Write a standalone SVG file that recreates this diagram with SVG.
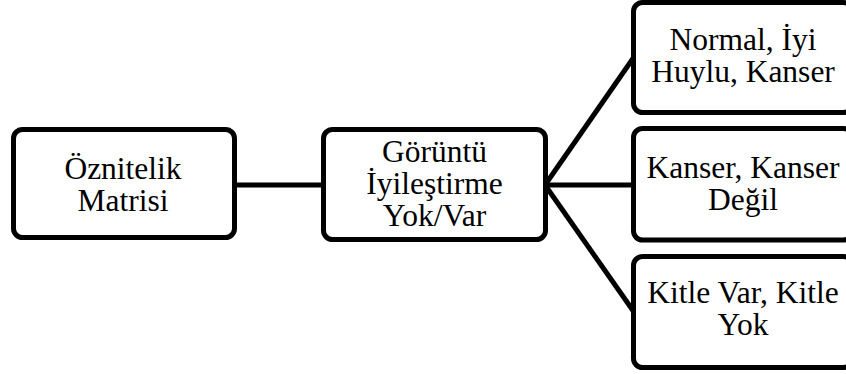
<svg xmlns="http://www.w3.org/2000/svg" width="846" height="374" viewBox="0 0 846 374">
<style>
.box{fill:#fff;stroke:#000;stroke-width:5}
.lbl{font-family:"Liberation Serif","Times New Roman",serif;font-size:31.5px;fill:#000;text-anchor:middle}
.conn line{stroke:#000;stroke-width:5}
</style>
<rect width="846" height="374" fill="#fff"/>
<g class="conn" id="connectors">
<line x1="234" y1="185" x2="324" y2="185"/>
<line x1="545" y1="185" x2="634" y2="185"/>
<line x1="545" y1="185" x2="634" y2="57"/>
<line x1="545" y1="185" x2="634" y2="312"/>
</g>
<g id="node-oznitelik">
<rect class="box" x="13.5" y="129.5" width="221" height="108" rx="9"/>
<text class="lbl" x="123" y="179">Öznitelik</text>
<text class="lbl" x="123" y="211">Matrisi</text>
</g>
<g id="node-goruntu">
<rect class="box" x="323.5" y="129.5" width="222" height="110" rx="9"/>
<text class="lbl" x="434.5" y="162">Görüntü</text>
<text class="lbl" x="434.5" y="194">İyileştirme</text>
<text class="lbl" x="434.5" y="226">Yok/Var</text>
</g>
<g id="node-normal">
<rect class="box" x="633.5" y="2.5" width="219" height="110" rx="9"/>
<text class="lbl" x="743" y="50">Normal, İyi</text>
<text class="lbl" x="743" y="82">Huylu, Kanser</text>
</g>
<g id="node-kanser">
<rect class="box" x="633.5" y="128.5" width="219" height="111.5" rx="9"/>
<text class="lbl" x="743" y="178">Kanser, Kanser</text>
<text class="lbl" x="743" y="210">Değil</text>
</g>
<g id="node-kitle">
<rect class="box" x="633.5" y="256.5" width="219" height="111" rx="9"/>
<text class="lbl" x="743" y="303">Kitle Var, Kitle</text>
<text class="lbl" x="743" y="335">Yok</text>
</g>
</svg>
